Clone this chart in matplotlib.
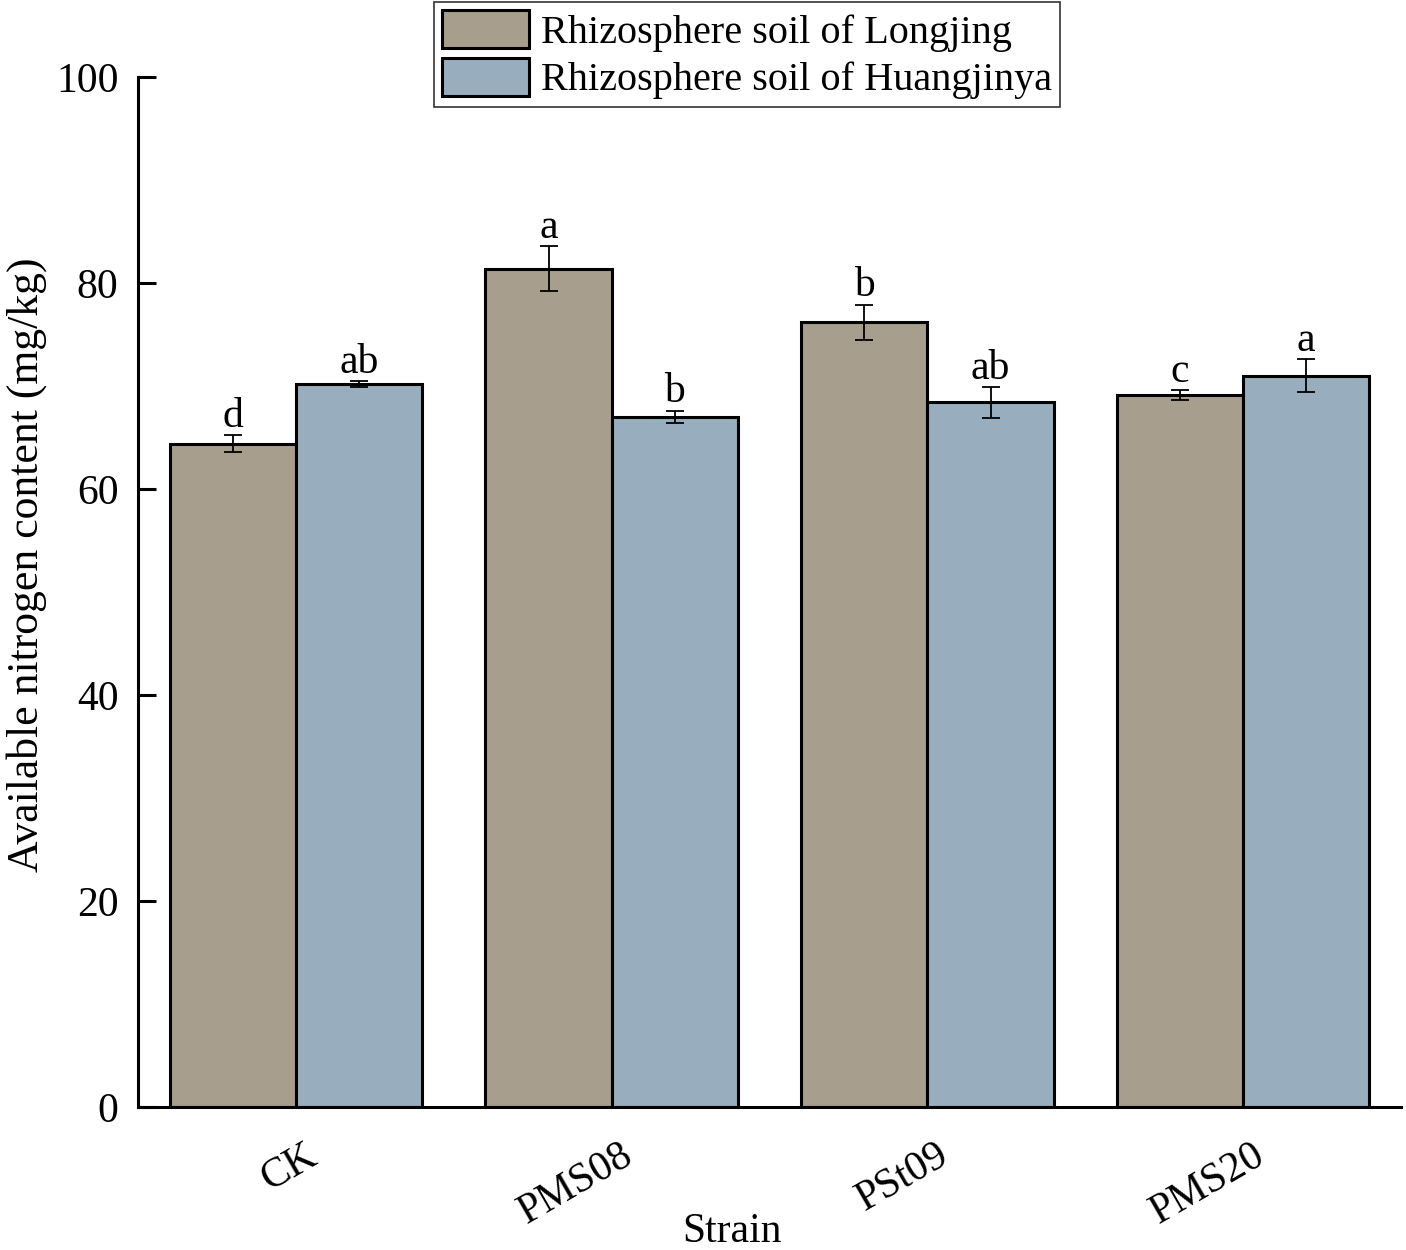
import matplotlib
matplotlib.use("Agg")
import matplotlib.pyplot as plt
import matplotlib.transforms as mtransforms
import numpy as np

categories = ["CK", "PMS08", "PSt09", "PMS20"]
series_names = ["Rhizosphere soil of Longjing", "Rhizosphere soil of Huangjinya"]
longjing = [64.4, 81.4, 76.2, 69.1]
longjing_err = [0.8, 2.2, 1.7, 0.5]
huangjinya = [70.2, 67.0, 68.4, 71.0]
huangjinya_err = [0.3, 0.6, 1.5, 1.6]
longjing_letters = ["d", "a", "b", "c"]
huangjinya_letters = ["ab", "b", "ab", "a"]
yticks = [0, 20, 40, 60, 80, 100]

plt.rcParams['font.family'] = ['Liberation Serif', 'DejaVu Serif']

fig = plt.figure(figsize=(14.06, 12.5), dpi=100)
ax = fig.add_axes([0.0982, 0.1144, 0.8982, 0.824])

x = np.arange(len(categories))
w = 0.4
colors = ['#a89e8d', '#98adbd']
series = [(longjing, longjing_err, longjing_letters), (huangjinya, huangjinya_err, huangjinya_letters)]
offsets = [-w / 2, w / 2]
handles = []
for (vals, errs, letters), off, col, name in zip(series, offsets, colors, series_names):
    b = ax.bar(x + off, vals, width=w, color=col, edgecolor='black', linewidth=2.2,
               label=name, zorder=2)
    handles.append(b)
    ax.errorbar(x + off, vals, yerr=errs, fmt='none', ecolor='black', elinewidth=1.3,
                capsize=6.5, capthick=1.3, zorder=3)
    for xi, v, e, t in zip(x + off, vals, errs, letters):
        ax.annotate(t, (xi, v + e), xytext=(0, -0.5), textcoords='offset points',
                    ha='center', va='bottom', fontsize=30)

ax.set_xlim(-0.5, 3.5)
ax.set_ylim(0, 100)
ax.set_yticks(yticks)
ax.set_xticks(x)
ax.set_xticklabels(categories, rotation=30, ha='right', va='top', rotation_mode='anchor')
ax.tick_params(axis='x', length=0, pad=21, labelsize=30)
ax.tick_params(axis='y', direction='in', length=13, width=2.2, pad=14, labelsize=30)
shift = mtransforms.ScaledTranslation(0.09, 0, fig.dpi_scale_trans)
for lab in ax.get_xticklabels():
    lab.set_transform(lab.get_transform() + shift)
for s in ['top', 'right']:
    ax.spines[s].set_visible(False)
for s in ['left', 'bottom']:
    ax.spines[s].set_linewidth(2.2)

ax.set_ylabel("Available nitrogen content (mg/kg)", fontsize=31.5)
ax.yaxis.set_label_coords(-0.072, 0.526)
ax.set_xlabel("Strain", fontsize=30)
ax.xaxis.set_label_coords(0.47, -0.102)

leg = fig.legend(handles=handles, labels=series_names, loc='upper center',
                 bbox_to_anchor=(0.5313, 0.9985), fontsize=29, frameon=True,
                 fancybox=False, edgecolor='black', handlelength=2.15, handleheight=1.07,
                 borderpad=0.2, labelspacing=0.15, handletextpad=0.3, borderaxespad=0)
leg.get_frame().set_linewidth(1.2)

fig.savefig("out.png", dpi=100)
